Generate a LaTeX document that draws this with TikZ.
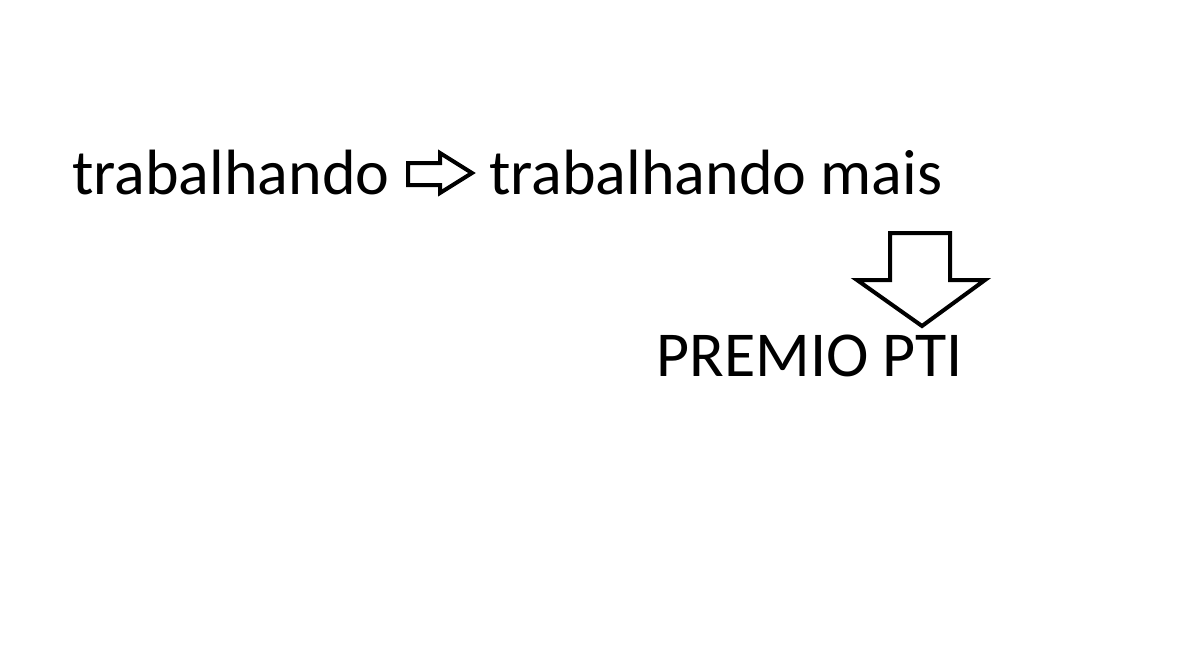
\documentclass[tikz,border=0pt]{standalone}
\usepackage{fontspec}
\setmainfont{Carlito}
\usetikzlibrary{positioning}
\tikzset{
  word/.style={anchor=base west,inner sep=0pt,font=\fontsize{64}{76}\selectfont},
  blockarrow/.style={draw=black,line width=4pt,fill=white,line join=miter}
}

\begin{document}
\begin{tikzpicture}[x=1pt,y=-1pt]
  \useasboundingbox (0,0) rectangle (1177,648);

  \node[word] (work) at (72,194) {trabalhando};
  \node[word] (more) at (489,194) {trabalhando mais};
  \node[word] (prize) at (656,376) {PREMIO PTI};

  % right arrow
  \draw[blockarrow] (408,163) -- (440,163) -- (440,153) -- (472,173)
    -- (440,193) -- (440,185) -- (408,185) -- cycle;
  % down arrow
  \draw[blockarrow] (890,233) -- (950,233) -- (950,280) -- (985,280)
    -- (922,326) -- (857,280) -- (890,280) -- cycle;
\end{tikzpicture}
\end{document}
